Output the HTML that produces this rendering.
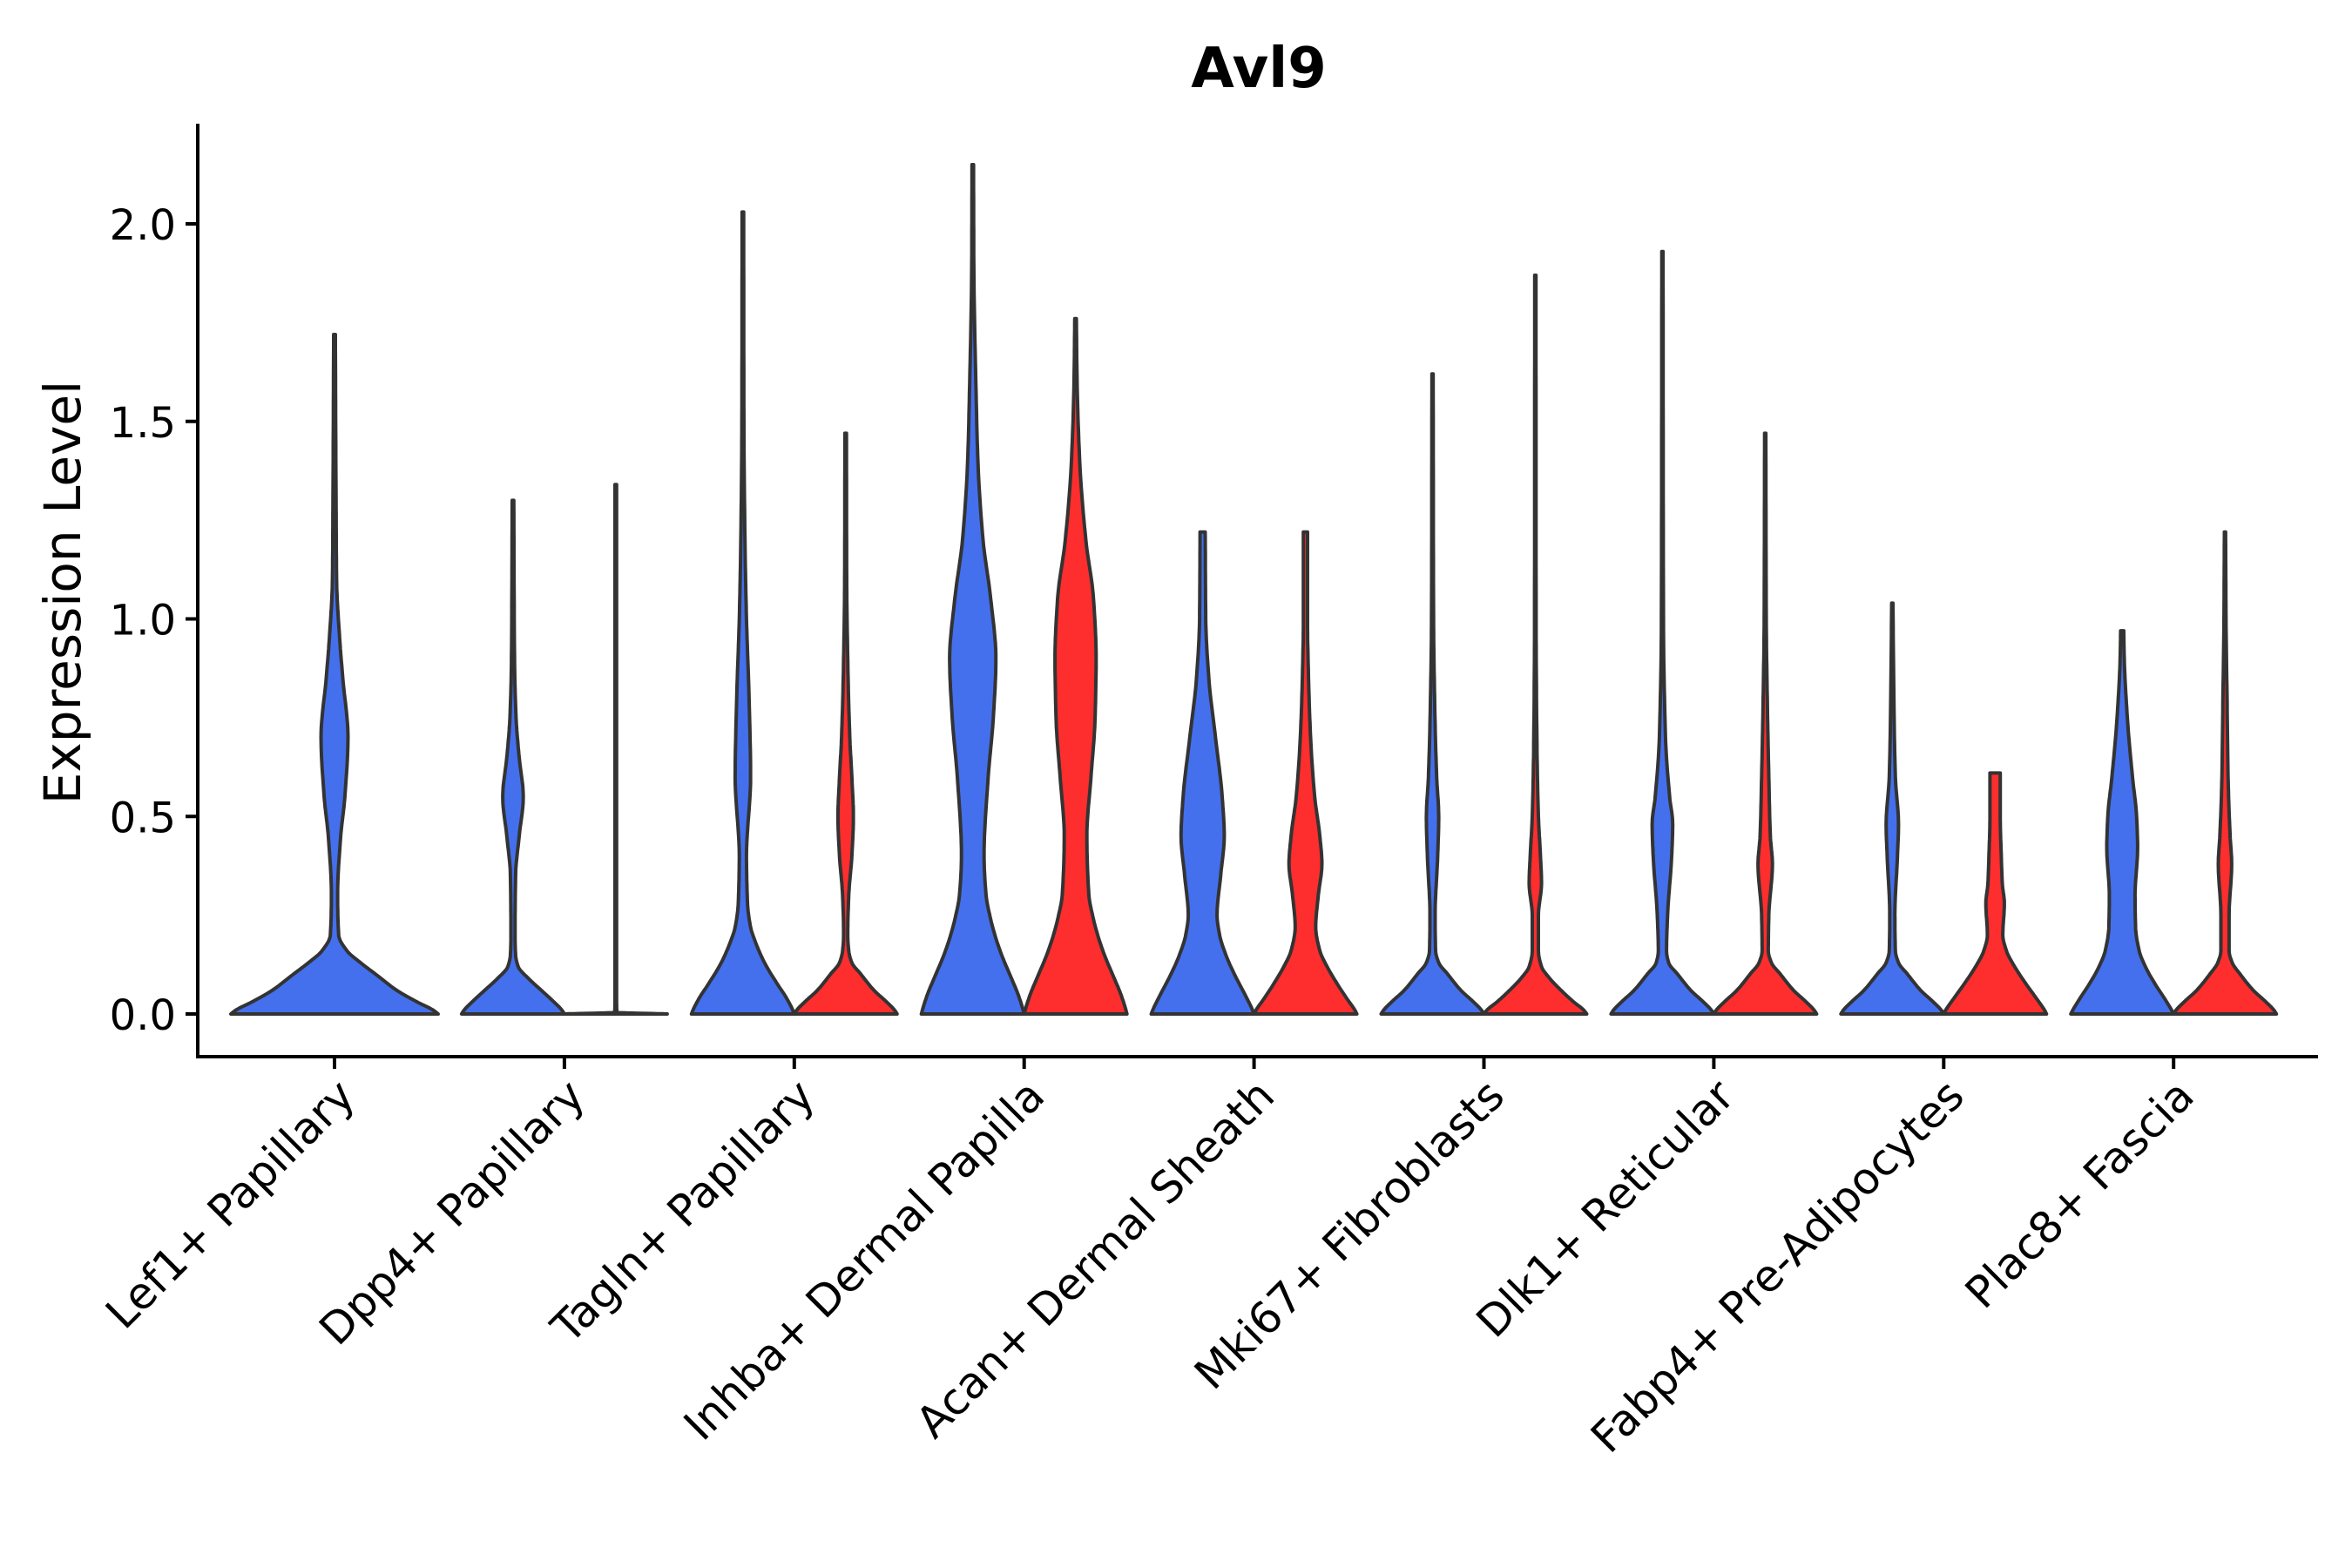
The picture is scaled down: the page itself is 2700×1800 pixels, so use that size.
<!DOCTYPE html>
<html><head><meta charset="utf-8"><style>
html,body{margin:0;padding:0;background:#fff;}
svg{display:block;font-family:"DejaVu Sans","Liberation Sans",sans-serif;}
</style></head><body>
<svg id="chart" width="2700" height="1800" viewBox="0 0 2700 1800">
<text x="1445" y="100" text-anchor="middle" font-size="64" font-weight="bold">Avl9</text>
<text transform="translate(92,680) rotate(-90)" text-anchor="middle" font-size="58">Expression Level</text>
<g id="violins"></g>
<g id="axes"></g>
</svg>
<script>
const categories = ["Lef1+ Papillary","Dpp4+ Papillary","Tagln+ Papillary","Inhba+ Dermal Papilla","Acan+ Dermal Sheath","Mki67+ Fibroblasts","Dlk1+ Reticular","Fabp4+ Pre-Adipocytes","Plac8+ Fascia"];
const yTicks = [0, 0.5, 1.0, 1.5, 2.0];
const yTickLabels = ["0.0","0.5","1.0","1.5","2.0"];
const blueLef1Y = [0,0.01,0.03,0.06,0.1,0.13,0.16,0.2,0.3,0.45,0.55,0.7,0.85,0.95,1.1,1.3,1.72];
const blueLef1W = [1,0.95,0.8,0.6,0.4,0.25,0.12,0.04,0.03,0.06,0.1,0.13,0.08,0.05,0.02,0.015,0.008];
const blueDpp4Y = [0,0.01,0.03,0.06,0.09,0.12,0.15,0.2,0.35,0.45,0.55,0.65,0.75,0.9,1.3];
const blueDpp4W = [1,0.95,0.8,0.55,0.3,0.1,0.05,0.04,0.05,0.12,0.2,0.12,0.06,0.03,0.015];
const redDpp4Y = [0,0.004,0.05,1.34];
const redDpp4W = [1,0.02,0.015,0.015];
const blueTaglnY = [0,0.01,0.04,0.08,0.13,0.18,0.22,0.28,0.4,0.6,0.8,1.0,1.2,1.5,2.03];
const blueTaglnW = [1,0.97,0.85,0.65,0.42,0.25,0.15,0.09,0.07,0.15,0.12,0.07,0.04,0.02,0.015];
const redTaglnY = [0,0.01,0.03,0.06,0.1,0.13,0.16,0.2,0.3,0.4,0.5,0.6,0.7,0.9,1.1,1.47];
const redTaglnW = [1,0.95,0.8,0.55,0.3,0.12,0.06,0.04,0.06,0.12,0.15,0.12,0.08,0.04,0.02,0.015];
const blueInhbaY = [0,0.01,0.05,0.1,0.15,0.2,0.25,0.3,0.4,0.6,0.75,0.9,1.05,1.2,1.4,1.6,1.9,2.15];
const blueInhbaW = [1,0.98,0.88,0.72,0.56,0.43,0.33,0.26,0.22,0.3,0.4,0.45,0.35,0.2,0.1,0.06,0.02,0.015];
const redInhbaY = [0,0.01,0.05,0.1,0.15,0.2,0.25,0.3,0.45,0.6,0.75,0.9,1.05,1.2,1.4,1.6,1.76];
const redInhbaW = [1,0.98,0.88,0.72,0.56,0.43,0.33,0.26,0.22,0.3,0.38,0.4,0.35,0.2,0.08,0.03,0.015];
const blueAcanY = [0,0.01,0.05,0.1,0.15,0.2,0.25,0.35,0.45,0.55,0.7,0.85,1.0,1.22];
const blueAcanW = [1,0.97,0.82,0.62,0.45,0.33,0.28,0.35,0.42,0.38,0.25,0.12,0.06,0.05];
const redAcanY = [0,0.01,0.04,0.08,0.12,0.16,0.22,0.3,0.38,0.45,0.55,0.7,0.85,1.0,1.22];
const redAcanW = [1,0.96,0.8,0.6,0.42,0.28,0.2,0.25,0.32,0.28,0.18,0.1,0.06,0.04,0.04];
const blueMki67Y = [0,0.01,0.03,0.06,0.1,0.13,0.16,0.25,0.4,0.5,0.6,0.8,1.0,1.62];
const blueMki67W = [1,0.95,0.8,0.55,0.3,0.12,0.06,0.05,0.1,0.12,0.08,0.04,0.02,0.012];
const redMki67Y = [0,0.01,0.03,0.06,0.09,0.12,0.16,0.25,0.33,0.4,0.5,0.7,1.0,1.87];
const redMki67W = [1,0.94,0.75,0.5,0.28,0.12,0.06,0.06,0.12,0.1,0.06,0.03,0.015,0.012];
const blueDlk1Y = [0,0.01,0.03,0.06,0.1,0.13,0.16,0.25,0.4,0.48,0.55,0.7,1.0,1.93];
const blueDlk1W = [1,0.95,0.8,0.55,0.3,0.12,0.08,0.1,0.18,0.2,0.14,0.06,0.02,0.012];
const redDlk1Y = [0,0.01,0.03,0.06,0.1,0.13,0.16,0.25,0.38,0.45,0.6,0.8,1.0,1.47];
const redDlk1W = [1,0.95,0.8,0.55,0.3,0.12,0.06,0.07,0.14,0.1,0.07,0.04,0.02,0.012];
const blueFabp4Y = [0,0.01,0.03,0.06,0.1,0.13,0.16,0.25,0.4,0.48,0.6,0.8,1.04];
const blueFabp4W = [1,0.95,0.8,0.55,0.3,0.12,0.06,0.05,0.1,0.12,0.06,0.03,0.012];
const redFabp4Y = [0,0.01,0.04,0.08,0.12,0.16,0.2,0.28,0.33,0.4,0.5,0.61];
const redFabp4W = [1,0.96,0.8,0.58,0.38,0.22,0.15,0.18,0.14,0.12,0.1,0.1];
const bluePlac8Y = [0,0.01,0.04,0.08,0.12,0.16,0.22,0.3,0.42,0.5,0.6,0.75,0.9,0.97];
const bluePlac8W = [1,0.96,0.82,0.62,0.45,0.33,0.26,0.25,0.3,0.28,0.2,0.1,0.04,0.03];
const redPlac8Y = [0,0.01,0.03,0.06,0.1,0.13,0.16,0.25,0.38,0.45,0.6,0.8,1.0,1.22];
const redPlac8W = [1,0.95,0.8,0.55,0.3,0.14,0.08,0.08,0.13,0.1,0.06,0.04,0.02,0.012];
const violins = [
 [0,-1,blueLef1Y,blueLef1W],
 [1,0,blueDpp4Y,blueDpp4W],[1,1,redDpp4Y,redDpp4W],
 [2,0,blueTaglnY,blueTaglnW],[2,1,redTaglnY,redTaglnW],
 [3,0,blueInhbaY,blueInhbaW],[3,1,redInhbaY,redInhbaW],
 [4,0,blueAcanY,blueAcanW],[4,1,redAcanY,redAcanW],
 [5,0,blueMki67Y,blueMki67W],[5,1,redMki67Y,redMki67W],
 [6,0,blueDlk1Y,blueDlk1W],[6,1,redDlk1Y,redDlk1W],
 [7,0,blueFabp4Y,blueFabp4W],[7,1,redFabp4Y,redFabp4W],
 [8,0,bluePlac8Y,bluePlac8W],[8,1,redPlac8Y,redPlac8W]
];

const NS = "http://www.w3.org/2000/svg";
const X0 = 227, X1 = 2661, YTOP = 142, YBOT = 1213;
const yScale = v => 1164 - v * 453.5;
const xScale = i => 384 + i * 263.9;
const colors = {"-1":"#4470ED","0":"#4470ED","1":"#FF2E2E"};

function pchip(xs, ys, steps){
  const n=xs.length, h=[], d=[], m=new Array(n).fill(0);
  for(let i=0;i<n-1;i++){h.push(xs[i+1]-xs[i]); d.push((ys[i+1]-ys[i])/h[i]);}
  m[0]=d[0]; m[n-1]=d[n-2];
  for(let i=1;i<n-1;i++){
    if(d[i-1]*d[i]<=0) m[i]=0;
    else { const w1=2*h[i]+h[i-1], w2=h[i]+2*h[i-1]; m[i]=(w1+w2)/(w1/d[i-1]+w2/d[i]); }
  }
  const out=[];
  for(let i=0;i<n-1;i++){
    for(let s=0;s<steps;s++){
      const t=s/steps, t2=t*t, t3=t2*t;
      const v=(2*t3-3*t2+1)*ys[i]+(t3-2*t2+t)*h[i]*m[i]+(-2*t3+3*t2)*ys[i+1]+(t3-t2)*h[i]*m[i+1];
      out.push([xs[i]+t*h[i], Math.max(0.004,v)]);
    }
  }
  out.push([xs[n-1], ys[n-1]]);
  return out;
}

const vg = document.getElementById('violins');
violins.forEach(v=>{
  const [ci,grp,ys,ws]=v;
  const hw = grp===-1 ? 119 : 59;
  const cx = grp===-1 ? xScale(ci) : xScale(ci) + (grp===0?-59:59);
  const pts = pchip(ys, ws, 12);
  const right = pts.map(p=>[cx+p[1]*hw, yScale(p[0])]);
  const left = pts.slice().reverse().map(p=>[cx-p[1]*hw, yScale(p[0])]);
  const all = right.concat(left);
  const d = "M"+all.map(p=>p[0].toFixed(1)+","+p[1].toFixed(1)).join("L")+"Z";
  const path=document.createElementNS(NS,'path');
  path.setAttribute('d',d);
  path.setAttribute('fill',colors[String(grp)]);
  path.setAttribute('stroke','#333333');
  path.setAttribute('stroke-width','4');
  path.setAttribute('stroke-linejoin','round');
  
  
  vg.appendChild(path);
});

const ag = document.getElementById('axes');
function line(x1,y1,x2,y2,name){
  const l=document.createElementNS(NS,'line');
  l.setAttribute('x1',x1);l.setAttribute('y1',y1);l.setAttribute('x2',x2);l.setAttribute('y2',y2);
  l.setAttribute('stroke','#000');l.setAttribute('stroke-width','4');
  
  
  ag.appendChild(l);
}
line(X0,YTOP,X0,YBOT+2,'y-axis-line');
line(X0-2,YBOT,X1,YBOT,'x-axis-line');
yTicks.forEach((t,k)=>{
  const y=yScale(t);
  line(X0-14,y,X0,y,'y-tick');
  const tx=document.createElementNS(NS,'text');
  tx.setAttribute('x',X0-25);tx.setAttribute('y',y+18);
  tx.setAttribute('text-anchor','end');tx.setAttribute('font-size','48');
  tx.textContent=yTickLabels[k];
  
  
  ag.appendChild(tx);
});
categories.forEach((c,i)=>{
  const x=xScale(i);
  line(x,YBOT,x,YBOT+14,'x-tick');
  const tx=document.createElementNS(NS,'text');
  tx.setAttribute('transform','translate('+(x+26)+','+(YBOT+48)+') rotate(-45)');
  tx.setAttribute('text-anchor','end');tx.setAttribute('font-size','50');
  tx.textContent=c;
  
  
  ag.appendChild(tx);
});
</script>
</body></html>
